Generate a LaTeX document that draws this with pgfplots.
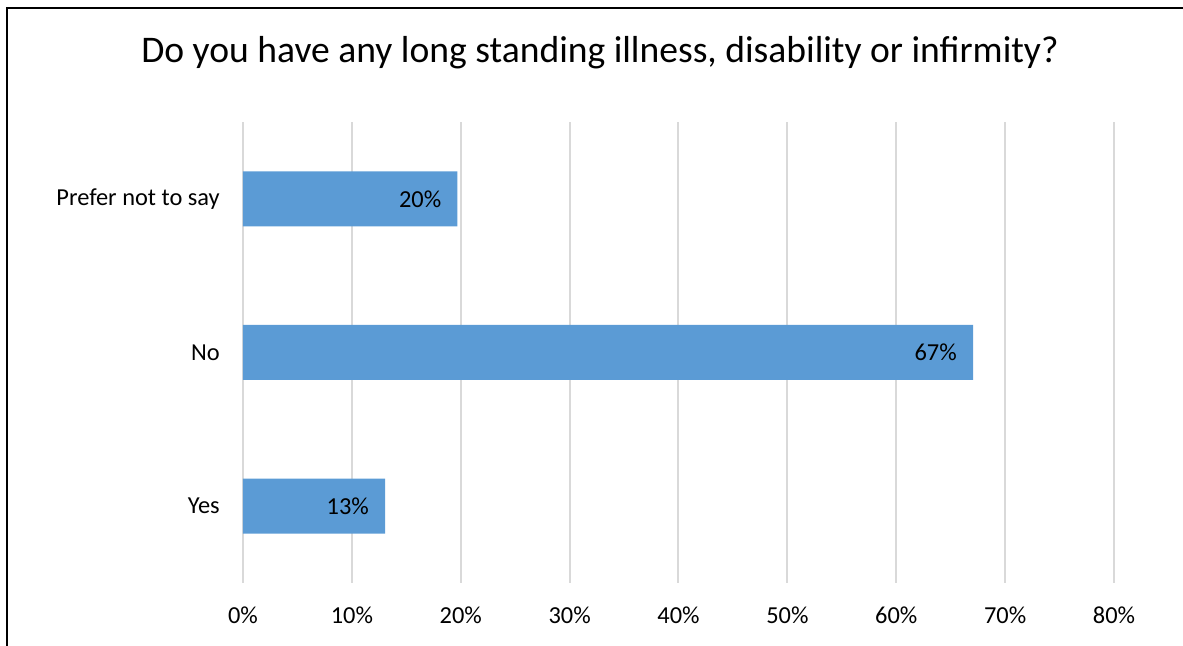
\documentclass[border=0pt]{standalone}
\usepackage{pgfplots}
\pgfplotsset{compat=1.18}
\usepackage{fontspec}
\setmainfont{Carlito}
\definecolor{barblue}{HTML}{5B9BD5}
\definecolor{gridgray}{HTML}{D9D9D9}
\begin{document}
\begin{tikzpicture}
\path[use as bounding box] (0,0) rectangle (887.25pt,484.5pt);
\draw[line width=1.5pt] (5.25pt,0) -- (5.25pt,478.5pt) -- (887.25pt,478.5pt);
\node[anchor=base, font=\fontsize{28.2}{34}\selectfont] at (450pt,437.25pt) {Do you have any long standing illness, disability or infirmity?};
\begin{axis}[
  at={(182.25pt,47.25pt)}, anchor=south west,
  scale only axis, width=653.25pt, height=345.75pt,
  xbar, bar width=41.25pt,
  xmin=0, xmax=80, ymin=-0.5, ymax=2.5,
  xtick={0,10,20,30,40,50,60,70,80},
  xticklabels={0\%,10\%,20\%,30\%,40\%,50\%,60\%,70\%,80\%},
  ytick={0,1,2},
  yticklabels={Yes,No,Prefer not to say},
  axis line style={draw=none},
  major tick length=0pt,
  xmajorgrids, major grid style={gridgray, line width=1.5pt},
  ticklabel style={font=\fontsize{18.3}{22}\selectfont, text=black},
  xticklabel style={anchor=base, inner sep=0pt, yshift=-30.75pt},
  yticklabel style={anchor=east, inner sep=0pt, xshift=-17.25pt},
  point meta=explicit symbolic,
  nodes near coords,
  nodes near coords style={anchor=east, inner sep=0pt, xshift=-12pt, font=\fontsize{18.3}{22}\selectfont, text=black},
  clip=false,
]
\addplot[fill=barblue, draw=none] coordinates {(13.05,0) [13\%] (67.05,1) [67\%] (19.7,2) [20\%]};
\end{axis}
\end{tikzpicture}
\end{document}
